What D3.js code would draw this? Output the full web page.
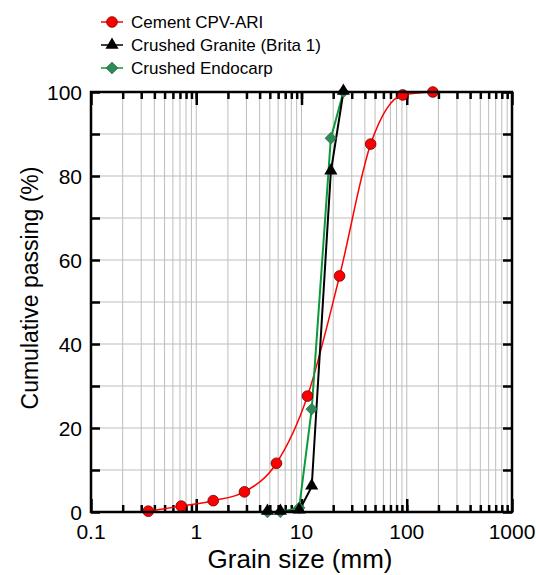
<!DOCTYPE html>
<html><head><meta charset="utf-8">
<script src="https://cdn.jsdelivr.net/npm/d3@7"></script>
<style>body{margin:0;background:#fff}svg{display:block;font-family:"Liberation Sans",Arial,sans-serif}</style>
</head><body><svg id="c" width="536" height="575"></svg>
<script>
const cementX = [0.35, 0.72, 1.45, 2.87, 5.78, 11.4, 23, 45.4, 91.6, 177];
const cementY = [0.2, 1.4, 2.7, 4.8, 11.6, 27.6, 56.2, 87.6, 99.3, 100];
const graniteX = [4.75, 6.3, 9.5, 12.5, 19, 25];
const graniteY = [0, 0, 0.3, 6, 81, 100];
const endoX = [4.75, 6.3, 9.5, 12.5, 19, 25];
const endoY = [0, 0, 1.0, 24.5, 89, 100];
const xTicks = [0.1, 1, 10, 100, 1000];
const xTickLabels = ["0.1", "1", "10", "100", "1000"];
const yTicks = [0, 20, 40, 60, 80, 100];
const legendLabels = ["Cement CPV-ARI", "Crushed Granite (Brita 1)", "Crushed Endocarp"];

const svg = d3.select("#c");
const L = 91, R = 512, T = 92, B = 512;
const x = d3.scaleLog().domain([0.1, 1000]).range([L, R]);
const y = d3.scaleLinear().domain([0, 100]).range([B, T]);

// grid
const minor = [];
for (let d = 0.1; d < 1000; d *= 10) for (let k = 1; k <= 9; k++) minor.push(+(d * k).toPrecision(3));
const grid = svg.append("g").attr("stroke", "#bdbdbd").attr("stroke-width", 1);
minor.filter(v => v > 0.1).forEach(v => grid.append("line").attr("x1", x(v)).attr("x2", x(v)).attr("y1", T).attr("y2", B));
d3.range(10, 100, 10).forEach(v => grid.append("line").attr("x1", L).attr("x2", R).attr("y1", y(v)).attr("y2", y(v)));

// axes with inward ticks
const ax = svg.append("g");
const fmt = (v) => xTickLabels[xTicks.indexOf(v)];
const inner = minor.filter(v => v > 0.1 && v < 1000);
ax.append("g").attr("transform", `translate(0,${B})`).call(d3.axisTop(x).tickValues(inner).tickSize(7).tickFormat(""));
ax.append("g").attr("transform", `translate(0,${B})`).call(d3.axisTop(x).tickValues(xTicks).tickSize(13).tickFormat(""));
ax.append("g").attr("transform", `translate(0,${T})`).call(d3.axisBottom(x).tickValues(inner).tickSize(7).tickFormat(""));
ax.append("g").attr("transform", `translate(0,${T})`).call(d3.axisBottom(x).tickValues(xTicks).tickSize(13).tickFormat(""));
ax.append("g").attr("transform", `translate(${L},0)`).call(d3.axisRight(y).tickValues(d3.range(0, 101, 10)).tickSize(9).tickFormat(""));
ax.append("g").attr("transform", `translate(${R},0)`).call(d3.axisLeft(y).tickValues(d3.range(0, 101, 10)).tickSize(9).tickFormat(""));
ax.selectAll(".domain").remove();
ax.selectAll("line").attr("stroke", "#000").attr("stroke-width", 2.5);

// tick labels
svg.append("g").selectAll("text").data(xTicks).join("text")
  .attr("x", d => x(d)).attr("y", 539).attr("text-anchor", "middle")
  .attr("font-size", 21).text(fmt);
svg.append("g").selectAll("text").data(yTicks).join("text")
  .attr("x", 82).attr("y", d => y(d) + 7.5).attr("text-anchor", "end")
  .attr("font-size", 21).text(d => d);

// titles
svg.append("text").attr("x", 300).attr("y", 568).attr("text-anchor", "middle").attr("font-size", 26).text("Grain size (mm)");
svg.append("text").attr("transform", `translate(38,${(T + B) / 2 - 14}) rotate(-90)`).attr("text-anchor", "middle").attr("font-size", 23).text("Cumulative passing (%)");

const plot = svg.append("g");
const cem = cementX.map((v, i) => [v, cementY[i]]);
const gra = graniteX.map((v, i) => [v, graniteY[i]]);
const endo = endoX.map((v, i) => [v, endoY[i]]);

plot.append("path").datum(cem).attr("fill", "none").attr("stroke", "#ff0000").attr("stroke-width", 1.5)
  .attr("d", d3.line().x(d => x(d[0])).y(d => y(d[1])).curve(d3.curveMonotoneX));
plot.append("path").datum(endo).attr("fill", "none").attr("stroke", "#0a9a3a").attr("stroke-width", 2)
  .attr("d", d3.line().x(d => x(d[0])).y(d => y(d[1])));
plot.append("path").datum(gra).attr("fill", "none").attr("stroke", "#000").attr("stroke-width", 2)
  .attr("d", d3.line().x(d => x(d[0])).y(d => y(d[1])));

const circ = d3.symbol().type(d3.symbolCircle).size(90);
const tri = d3.symbol().type(d3.symbolTriangle).size(75);
const dia = d3.symbol().type(d3.symbolSquare).size(68);

plot.selectAll(".c").data(cem).join("path").attr("d", circ)
  .attr("transform", d => `translate(${x(d[0])},${y(d[1])})`)
  .attr("fill", "#ff0000").attr("stroke", "#600").attr("stroke-width", 0.8);
plot.selectAll(".e").data(endo).join("path").attr("d", dia)
  .attr("transform", d => `translate(${x(d[0])},${y(d[1])}) rotate(45)`)
  .attr("fill", "#2e8b57").attr("stroke", "#1d6b3f").attr("stroke-width", 0.6);
plot.selectAll(".g").data(gra).join("path").attr("d", tri)
  .attr("transform", d => `translate(${x(d[0])},${y(d[1]) - 1})`)
  .attr("fill", "#000");

// legend
const leg = svg.append("g");
const rows = [
  { c: "#ff0000", sym: circ, fill: "#ff0000", stroke: "#600", rot: 0 },
  { c: "#000", sym: tri, fill: "#000", stroke: "none", rot: 0 },
  { c: "#0a9a3a", sym: dia, fill: "#2e8b57", stroke: "#1d6b3f", rot: 45 }
];
rows.forEach((r, i) => {
  const yy = 22 + i * 23;
  leg.append("line").attr("x1", 101).attr("x2", 123).attr("y1", yy).attr("y2", yy).attr("stroke", r.c).attr("stroke-width", 1.5);
  leg.append("path").attr("d", r.sym).attr("transform", `translate(112,${yy}) rotate(${r.rot})`).attr("fill", r.fill).attr("stroke", r.stroke).attr("stroke-width", 0.8);
  leg.append("text").attr("x", 131).attr("y", yy + 6).attr("font-size", 17).text(legendLabels[i]);
});

// frame
svg.append("rect").attr("x", L).attr("y", T).attr("width", R - L).attr("height", B - T)
  .attr("fill", "none").attr("stroke", "#000").attr("stroke-width", 2.5);
</script></body></html>
